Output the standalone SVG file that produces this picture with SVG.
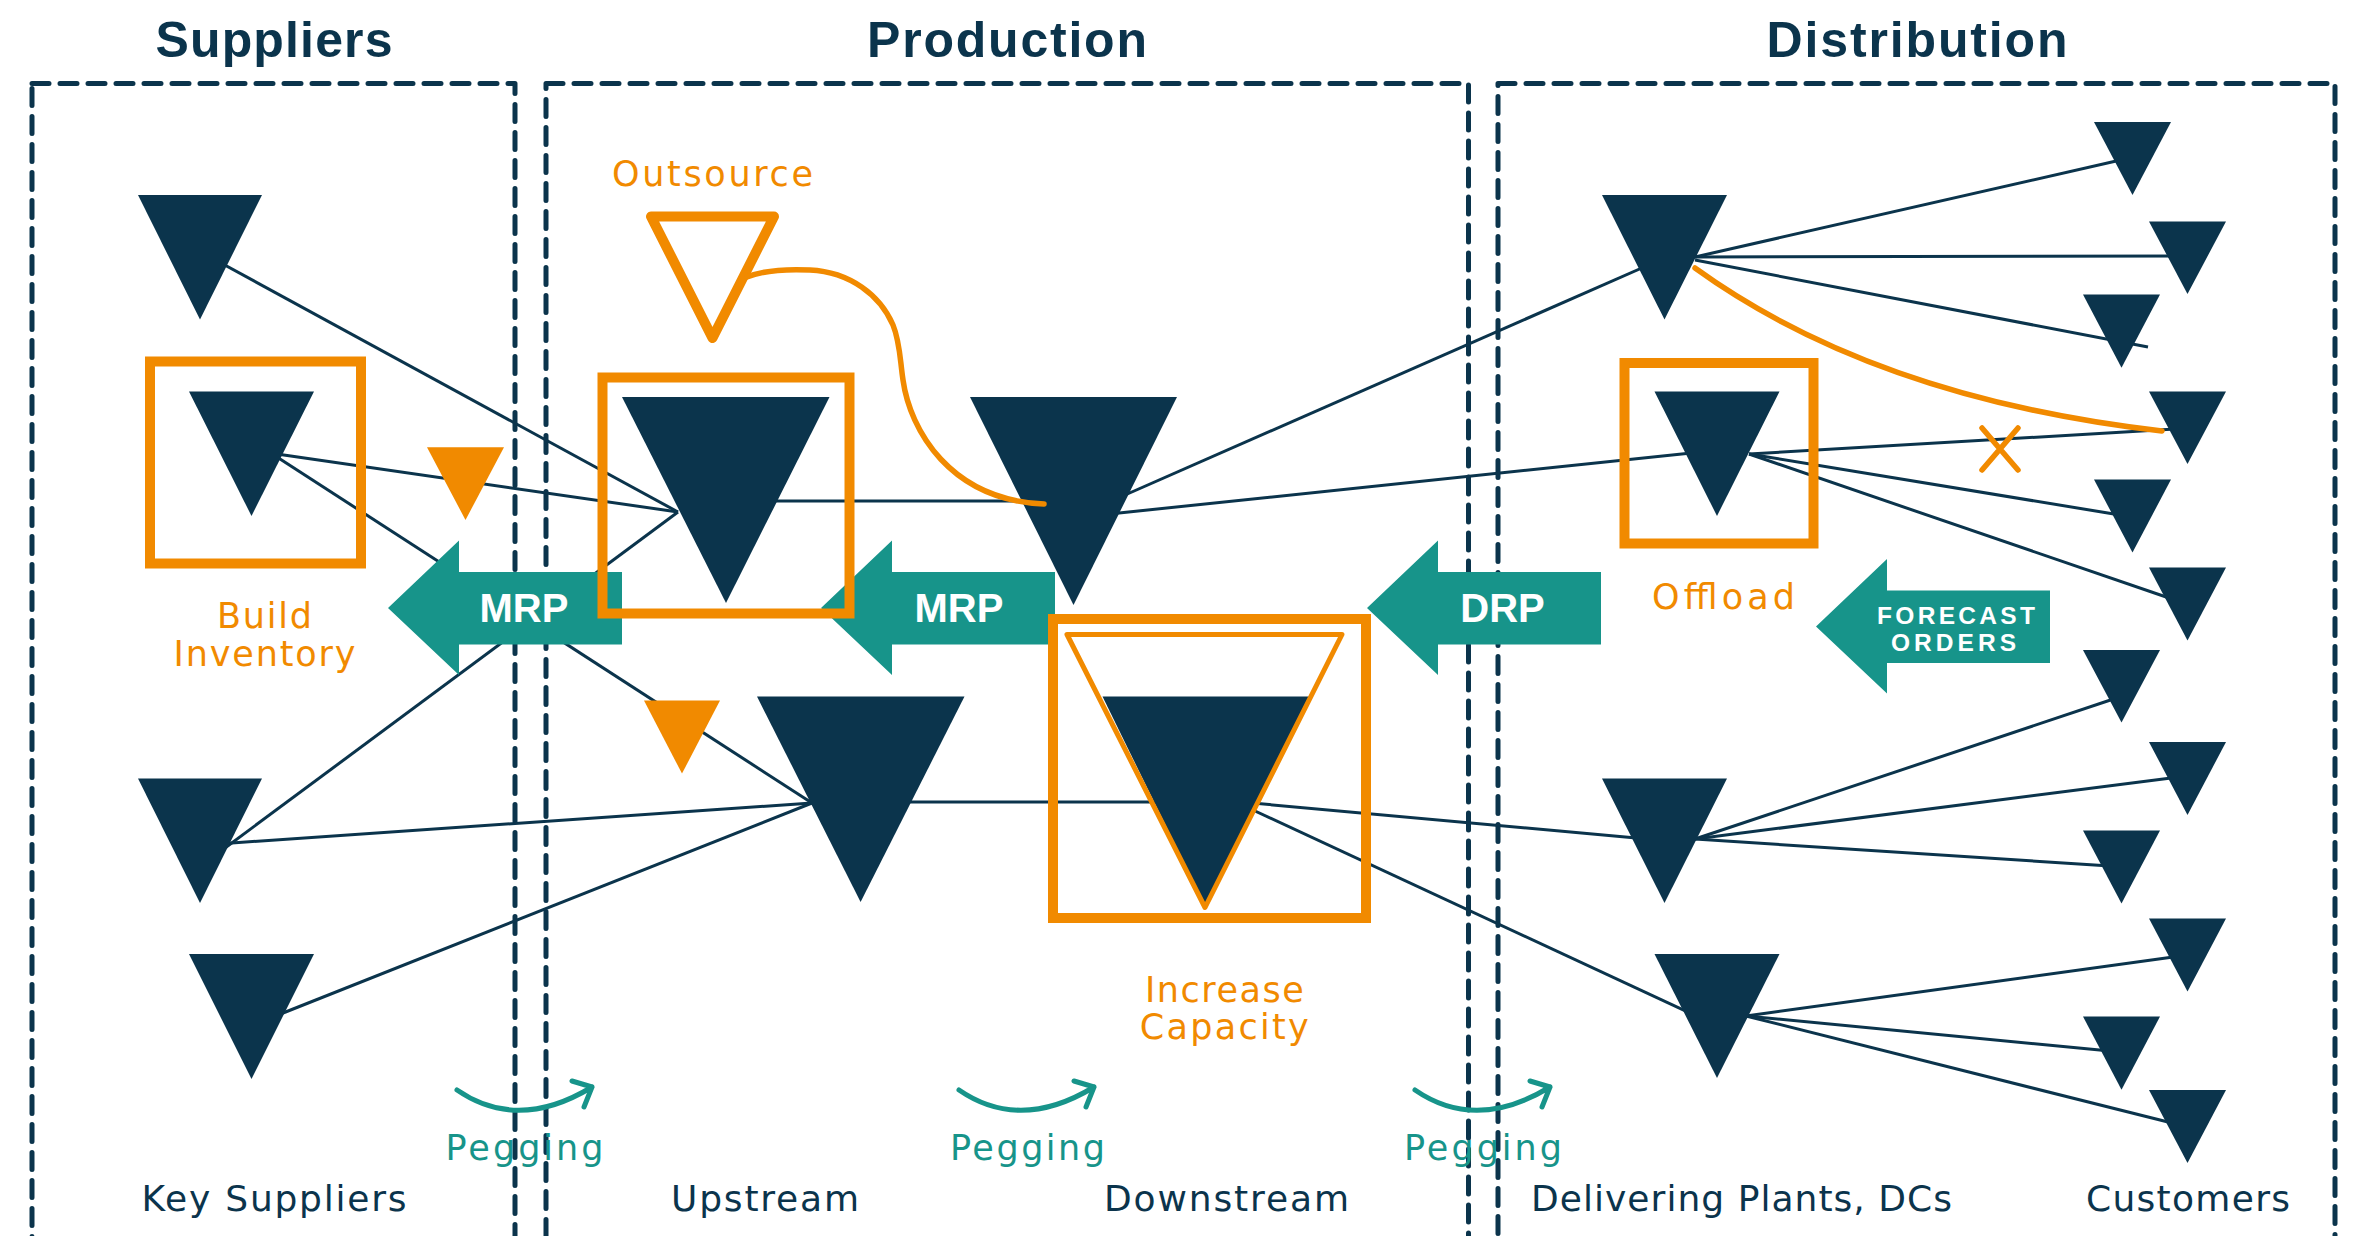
<svg xmlns="http://www.w3.org/2000/svg" xmlns:xlink="http://www.w3.org/1999/xlink" width="2355" height="1236" viewBox="0 0 2355 1236">
  <style>
    .zone { fill: none; stroke: #0b344c; stroke-width: 5; stroke-dasharray: 17 11; stroke-linecap: round; stroke-linejoin: round; }
    .link { fill: none; stroke: #0b344c; stroke-width: 3; }
    .node { fill: #0b344c; }
    .accent { fill: #f18a00; }
    .frame { fill: none; stroke: #f18a00; stroke-width: 10; }
    .curve { fill: none; stroke: #f18a00; stroke-width: 5.5; stroke-linecap: round; }
    .flow { fill: #17948a; }
    .peg { fill: none; stroke: #17948a; stroke-width: 5; stroke-linecap: round; stroke-linejoin: round; }
    .title { font-family: "Liberation Sans", Arial, sans-serif; font-weight: bold; font-size: 50px; fill: #0b344c; text-anchor: middle; }
    .label { font-family: "DejaVu Sans", Verdana, sans-serif; font-size: 36px; fill: #0b344c; text-anchor: middle; }
    .note { font-family: "DejaVu Sans", Verdana, sans-serif; font-size: 35px; fill: #f18a00; text-anchor: middle; }
    .pegtext { font-family: "DejaVu Sans", Verdana, sans-serif; font-size: 35px; fill: #17948a; text-anchor: middle; }
    .tag { font-family: "Liberation Sans", Arial, sans-serif; font-weight: bold; font-size: 40px; fill: #ffffff; text-anchor: middle; }
    .tagsm { font-family: "Liberation Sans", Arial, sans-serif; font-weight: bold; font-size: 24.5px; fill: #ffffff; text-anchor: middle; }
  </style>
  <defs>
    <!-- block arrow pointing left, origin at the tip -->
    <path id="blockArrow" d="M0,0 L71,-67.5 L71,-36 L234,-36 L234,36.5 L71,36.5 L71,67 Z"/>
    <!-- pegging swoosh with open arrowhead, origin at the tail -->
    <path id="pegArc" d="M0,0 Q61,42 135,-3 M115,-9 L135,-3 L127,17"/>
  </defs>

  <rect width="2355" height="1236" fill="#ffffff"/>

  <!-- swim lanes -->
  <g id="lanes">
    <rect class="zone" x="32" y="83.5" width="483" height="1250"/>
    <rect class="zone" x="546" y="83.5" width="922.5" height="1250"/>
    <rect class="zone" x="1498" y="83.5" width="837" height="1250"/>
  </g>

  <!-- connectors -->
  <g id="connectors" class="link">
    <!-- suppliers to upstream -->
    <line x1="210" y1="257" x2="678" y2="512"/>
    <line x1="270" y1="453" x2="678" y2="512"/>
    <line x1="270" y1="452.5" x2="812" y2="803"/>
    <line x1="225" y1="848" x2="678" y2="512"/>
    <line x1="225" y1="843.5" x2="812" y2="803"/>
    <line x1="278" y1="1015" x2="812" y2="803"/>
    <!-- upstream to downstream -->
    <line x1="740" y1="501" x2="1080" y2="501"/>
    <line x1="860" y1="802" x2="1205" y2="802"/>
    <!-- downstream to delivering plants -->
    <line x1="1100" y1="506" x2="1660" y2="260"/>
    <line x1="1100" y1="515" x2="1720" y2="450"/>
    <line x1="1230" y1="801" x2="1680" y2="842"/>
    <line x1="1240" y1="804" x2="1720" y2="1027"/>
    <!-- delivering plants to customers -->
    <line x1="1695" y1="257" x2="2125" y2="159"/>
    <line x1="1695" y1="257" x2="2180" y2="256"/>
    <line x1="1695" y1="260" x2="2148" y2="347"/>
    <line x1="1749" y1="454" x2="2175" y2="429"/>
    <line x1="1749" y1="454" x2="2120" y2="515"/>
    <line x1="1749" y1="454" x2="2172" y2="599"/>
    <line x1="1695" y1="839" x2="2115" y2="698.5"/>
    <line x1="1695" y1="839" x2="2175" y2="777.5"/>
    <line x1="1695" y1="839" x2="2110" y2="866"/>
    <line x1="1746" y1="1016" x2="2175" y2="956.7"/>
    <line x1="1746" y1="1016" x2="2110" y2="1051"/>
    <line x1="1746" y1="1016" x2="2172" y2="1123"/>
  </g>

  <!-- key suppliers -->
  <g id="supplier-1"><polygon class="node" points="138,195 262,195 200,319.5"/></g>
  <g id="supplier-2"><polygon class="node" points="189,391.5 314,391.5 251.5,516"/></g>
  <g id="supplier-3"><polygon class="node" points="138,778.5 262,778.5 200,903"/></g>
  <g id="supplier-4"><polygon class="node" points="189,954 314,954 251.5,1079"/></g>

  <!-- production -->
  <g id="upstream-1"><polygon class="node" points="622,397 829.5,397 726,603"/></g>
  <g id="upstream-2"><polygon class="node" points="757,696.5 964.5,696.5 860.6,902"/></g>
  <g id="downstream-1"><polygon class="node" points="970,397 1177,397 1073.5,605"/></g>
  <g id="downstream-2">
    <polygon class="node" points="1102.5,696.5 1309,696.5 1205,906"/>
    <polygon fill="none" stroke="#f18a00" stroke-width="5" stroke-linejoin="round" points="1067,634.5 1342,634.5 1205,907.5"/>
  </g>

  <!-- delivering plants, DCs -->
  <g id="dc-1"><polygon class="node" points="1602,195 1727,195 1664.5,319.5"/></g>
  <g id="dc-2"><polygon class="node" points="1654.5,391.5 1779.5,391.5 1717,516"/></g>
  <g id="dc-3"><polygon class="node" points="1602,778.5 1727,778.5 1664.5,903"/></g>
  <g id="dc-4"><polygon class="node" points="1654.5,954 1779.5,954 1717,1078"/></g>

  <!-- customers -->
  <g id="customer-1"><polygon class="node" points="2094,122 2171,122 2132.5,195"/></g>
  <g id="customer-2"><polygon class="node" points="2149,221.5 2226,221.5 2187.5,294"/></g>
  <g id="customer-3"><polygon class="node" points="2083,294.6 2160,294.6 2121.5,367.7"/></g>
  <g id="customer-4"><polygon class="node" points="2149,391.5 2226,391.5 2187.5,464"/></g>
  <g id="customer-5"><polygon class="node" points="2094,479.6 2171,479.6 2132.5,552.4"/></g>
  <g id="customer-6"><polygon class="node" points="2149,567.4 2226,567.4 2187.5,640.6"/></g>
  <g id="customer-7"><polygon class="node" points="2083,650 2160,650 2121.5,722.5"/></g>
  <g id="customer-8"><polygon class="node" points="2149,742 2226,742 2187.5,815"/></g>
  <g id="customer-9"><polygon class="node" points="2083,830.4 2160,830.4 2121.5,903.4"/></g>
  <g id="customer-10"><polygon class="node" points="2149,918.5 2226,918.5 2187.5,991.5"/></g>
  <g id="customer-11"><polygon class="node" points="2083,1016.6 2160,1016.6 2121.5,1089.7"/></g>
  <g id="customer-12"><polygon class="node" points="2149,1090 2226,1090 2187.5,1163"/></g>

  <!-- planning flows -->
  <g id="mrp-supplier">
    <use href="#blockArrow" class="flow" x="388" y="608"/>
    <text class="tag" x="524" y="622.3">MRP</text>
  </g>
  <g id="mrp-production">
    <use href="#blockArrow" class="flow" x="821" y="608"/>
    <text class="tag" x="959" y="622.3">MRP</text>
  </g>
  <g id="drp">
    <use href="#blockArrow" class="flow" x="1367" y="608"/>
    <text class="tag" x="1502.5" y="622.3">DRP</text>
  </g>
  <g id="forecast-orders">
    <use href="#blockArrow" class="flow" x="1816" y="626.5"/>
    <text class="tagsm" x="1956" y="623.5" textLength="158">FORECAST</text>
    <text class="tagsm" x="1953.5" y="651" textLength="125">ORDERS</text>
  </g>

  <!-- levers -->
  <g id="build-inventory">
    <rect class="frame" x="150" y="361.5" width="211" height="202"/>
    <polygon class="accent" points="427,447.3 504,447.3 465.5,520"/>
    <polygon class="accent" points="644,700.6 720,700.6 682,773.6"/>
    <text class="note" x="264.5" y="627.6" textLength="95">Build</text>
    <text class="note" x="264.5" y="665.7" textLength="182">Inventory</text>
  </g>
  <g id="outsource">
    <rect class="frame" x="602.5" y="377.5" width="247" height="236" stroke-width="9"/>
    <polygon fill="none" stroke="#f18a00" stroke-width="10" stroke-linejoin="round" points="651,216.5 774,216.5 712.5,338"/>
    <path class="curve" d="M747,277 C765,270 790,269 810,270 C850,272 880,295 893,325 C900,342 900,360 903,380 C910,430 950,500 1044,504"/>
    <text class="note" x="712.5" y="186" textLength="201">Outsource</text>
  </g>
  <g id="increase-capacity">
    <rect class="frame" x="1053" y="619" width="313" height="299"/>
    <text class="note" x="1224.4" y="1001.6" textLength="159">Increase</text>
    <text class="note" x="1224.3" y="1039" textLength="169">Capacity</text>
  </g>
  <g id="offload">
    <rect class="frame" x="1624.5" y="363" width="189" height="180.5"/>
    <path class="curve" d="M1695,268 Q1875,398 2162,431"/>
    <path class="curve" d="M1982,428 L2018,470 M2018,428 L1982,470"/>
    <text class="note" x="1723.5" y="609" textLength="143">Offload</text>
  </g>

  <!-- pegging -->
  <g id="pegging">
    <use href="#pegArc" class="peg" x="457" y="1090"/>
    <use href="#pegArc" class="peg" x="959" y="1090"/>
    <use href="#pegArc" class="peg" x="1415" y="1090"/>
    <text class="pegtext" x="524.5" y="1160" textLength="158">Pegging</text>
    <text class="pegtext" x="1027.5" y="1160" textLength="155">Pegging</text>
    <text class="pegtext" x="1483" y="1160" textLength="158">Pegging</text>
  </g>

  <!-- headings -->
  <g id="headings">
    <text class="title" x="274" y="57" textLength="237">Suppliers</text>
    <text class="title" x="1007" y="57" textLength="280">Production</text>
    <text class="title" x="1917" y="57" textLength="301">Distribution</text>
  </g>

  <!-- tier labels -->
  <g id="tiers">
    <text class="label" x="274" y="1210.5" textLength="265">Key Suppliers</text>
    <text class="label" x="765" y="1210.5" textLength="188">Upstream</text>
    <text class="label" x="1226.5" y="1210.5" textLength="245">Downstream</text>
    <text class="label" x="1741.5" y="1210.5" textLength="421">Delivering Plants, DCs</text>
    <text class="label" x="2188" y="1210.5" textLength="204">Customers</text>
  </g>
</svg>
